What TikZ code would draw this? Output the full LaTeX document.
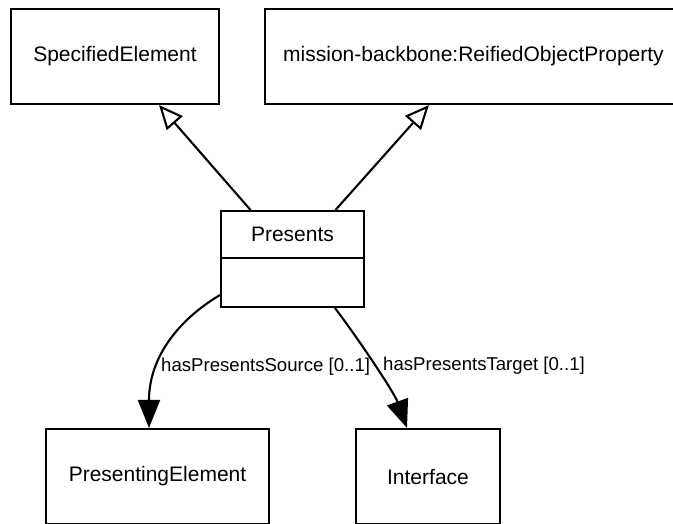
\documentclass[tikz,border=0pt]{standalone}
\usepackage{fontspec}
\setmainfont{Liberation Sans}
\usetikzlibrary{arrows.meta}
\begin{document}
\begin{tikzpicture}[
      x=1pt, y=-1pt,
      font=\fontsize{21pt}{25pt}\selectfont,
      klasse/.style={draw, line width=2.1pt, minimum height=95pt, inner sep=0pt},
      teil/.style={draw, line width=2.1pt, minimum width=143pt, inner sep=0pt},
      erbt/.style={line width=2.1pt, -{Triangle[open, length=24pt, width=21pt, fill=white]}},
      assoz/.style={line width=2.1pt, -{Triangle[length=28pt, width=22pt]}},
      rolle/.style={font=\fontsize{18.6pt}{22pt}\selectfont, inner sep=0pt, anchor=west}
    ]
      \useasboundingbox (0,0) rectangle (673,523);
      \node[klasse, minimum width=208pt] (spec) at (115,56.5) {SpecifiedElement};
      \node[klasse, minimum width=417pt] (reified) at (473.5,56.5) {mission-backbone:ReifiedObjectProperty};
      \node[teil, minimum height=47pt] (presents) at (292.5,234.5) {Presents};
      \node[teil, minimum height=49pt] (presentsattr) at (292.5,282.5) {};
      \node[klasse, minimum width=223pt] (presenting) at (157.5,476.5) {PresentingElement};
      \node[klasse, minimum width=144pt] (iface) at (428,476.5) {Interface};
      \draw[erbt] ([xshift=-42pt]presents.north) -- ([xshift=-61pt]spec.south east);
      \draw[erbt] ([xshift=43pt]presents.north) -- ([xshift=165pt]reified.south west);
      \draw[assoz] ([yshift=-12.5pt]presentsattr.west) .. controls (175,322) and (149,360) .. ([xshift=-8.5pt]presenting.north);
      \draw[assoz] ([xshift=42.5pt]presentsattr.south) .. controls (357,337) and (394,392) .. ([xshift=-21pt]iface.north);
      \node[rolle] (srclbl) at (161,367) {hasPresentsSource [0..1]};
      \node[rolle] (tgtlbl) at (383,366) {hasPresentsTarget [0..1]};
    \end{tikzpicture}
\end{document}
